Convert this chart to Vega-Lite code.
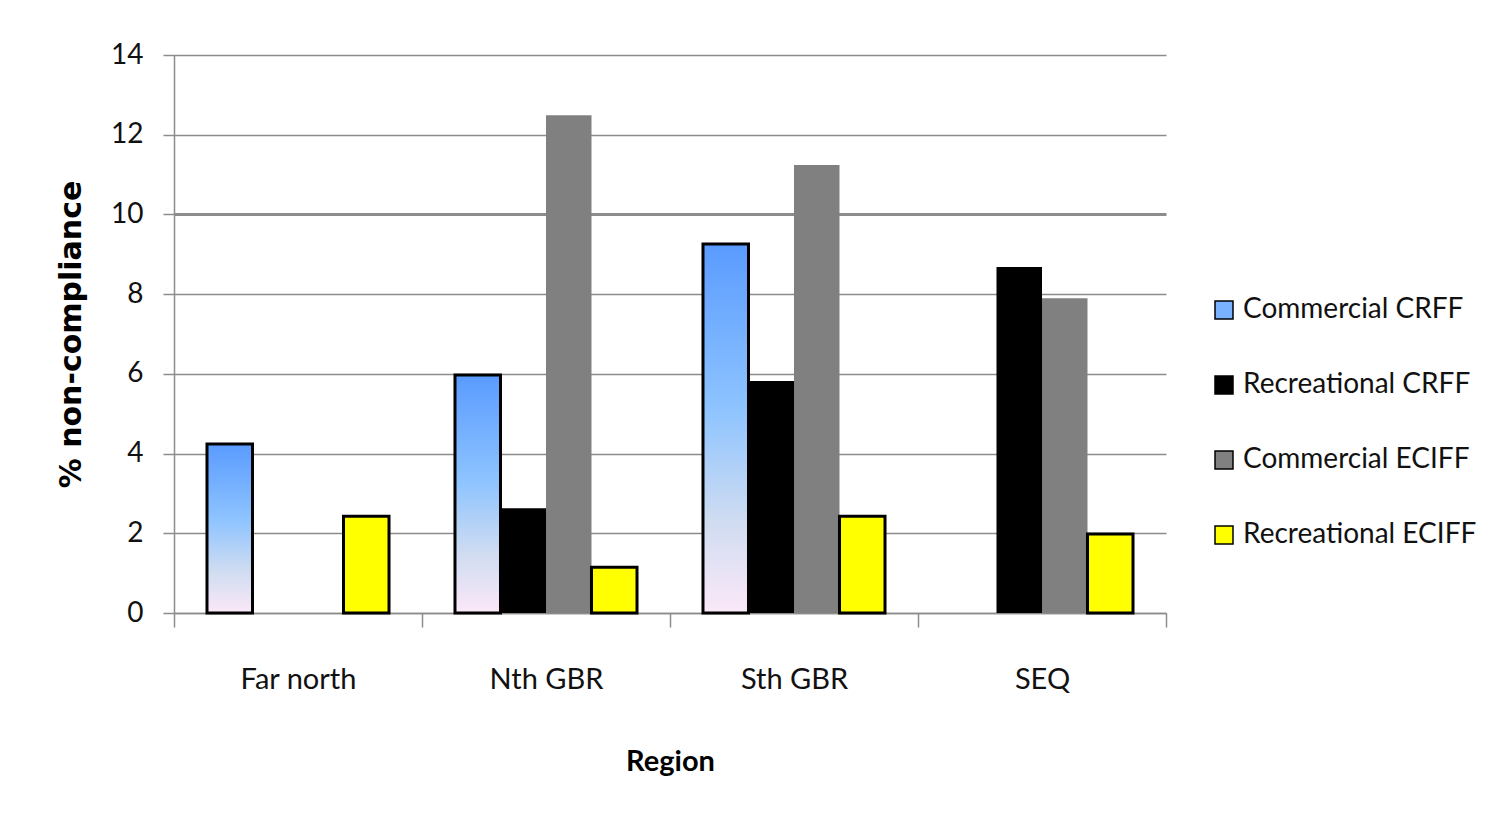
{
  "$schema": "https://vega.github.io/schema/vega-lite/v6.json",
  "autosize": {"type": "none"},
  "padding": {"left": 174, "top": 55, "right": 331, "bottom": 221},
  "width": 992,
  "height": 558,
  "background": "white",
  "config": {
    "view": {"stroke": null},
    "font": "Lato"
  },
  "data": {
    "values": [
      {"region": "Far north", "series": "Commercial CRFF", "pct": 4.24},
      {"region": "Far north", "series": "Recreational ECIFF", "pct": 2.43},
      {"region": "Nth GBR", "series": "Commercial CRFF", "pct": 5.97},
      {"region": "Nth GBR", "series": "Recreational CRFF", "pct": 2.63},
      {"region": "Nth GBR", "series": "Commercial ECIFF", "pct": 12.49},
      {"region": "Nth GBR", "series": "Recreational ECIFF", "pct": 1.15},
      {"region": "Sth GBR", "series": "Commercial CRFF", "pct": 9.26},
      {"region": "Sth GBR", "series": "Recreational CRFF", "pct": 5.82},
      {"region": "Sth GBR", "series": "Commercial ECIFF", "pct": 11.24},
      {"region": "Sth GBR", "series": "Recreational ECIFF", "pct": 2.43},
      {"region": "SEQ", "series": "Recreational CRFF", "pct": 8.68},
      {"region": "SEQ", "series": "Commercial ECIFF", "pct": 7.9},
      {"region": "SEQ", "series": "Recreational ECIFF", "pct": 1.98}
    ]
  },
  "mark": {"type": "bar", "stroke": "black"},
  "encoding": {
    "x": {
      "field": "region",
      "type": "nominal",
      "sort": ["Far north", "Nth GBR", "Sth GBR", "SEQ"],
      "scale": {"paddingInner": 0, "paddingOuter": 0},
      "axis": {
        "title": "Region",
        "titleFont": "Lato",
        "titleFontWeight": "bold",
        "titleFontSize": 29,
        "titleColor": "black",
        "titlePadding": 53,
        "labelAngle": 0,
        "labelFont": "Lato",
        "labelFontSize": 29,
        "labelColor": "#111",
        "labelPadding": 38,
        "tickBand": "extent",
        "tickSize": 14,
        "tickColor": "#8c8c8c",
        "tickWidth": 1.5,
        "domainColor": "#8c8c8c",
        "domainWidth": 1.5,
        "grid": false
      }
    },
    "xOffset": {
      "field": "series",
      "type": "nominal",
      "scale": {
        "domain": ["Commercial CRFF", "Recreational CRFF", "Commercial ECIFF", "Recreational ECIFF"],
        "paddingInner": 0,
        "paddingOuter": 0.725
      }
    },
    "y": {
      "field": "pct",
      "type": "quantitative",
      "scale": {"domain": [0, 14], "nice": false},
      "axis": {
        "title": "% non-compliance",
        "titleFont": "DejaVu Sans",
        "titleFontWeight": "bold",
        "titleFontSize": 30,
        "titleColor": "black",
        "titlePadding": 24,
        "values": [0, 2, 4, 6, 8, 10, 12, 14],
        "labelFont": "Lato",
        "labelFontSize": 28,
        "labelColor": "#111",
        "labelPadding": 20,
        "tickSize": 11,
        "tickColor": "#8c8c8c",
        "tickWidth": 1.5,
        "domainColor": "#8c8c8c",
        "domainWidth": 1.5,
        "grid": true,
        "gridColor": "#8c8c8c",
        "gridWidth": {"condition": {"test": "datum.value === 10", "value": 3}, "value": 1.5}
      }
    },
    "fill": {
      "field": "series",
      "type": "nominal",
      "scale": {
        "domain": ["Commercial CRFF", "Recreational CRFF", "Commercial ECIFF", "Recreational ECIFF"],
        "range": ["#79b3ff", "#000000", "#808080", "#ffff00"]
      },
      "condition": {
        "test": "datum.series === 'Commercial CRFF'",
        "value": {
          "gradient": "linear",
          "x1": 0, "y1": 0, "x2": 0, "y2": 1,
          "stops": [
            {"offset": 0, "color": "#5a9bff"},
            {"offset": 0.45, "color": "#8ec4ff"},
            {"offset": 0.75, "color": "#cfdcf1"},
            {"offset": 1, "color": "#fbe8f8"}
          ]
        }
      },
      "legend": {
        "title": null,
        "orient": "none",
        "legendX": 1036,
        "legendY": 241,
        "symbolType": "square",
        "symbolSize": 324,
        "labelFont": "Lato",
        "labelFontSize": 28,
        "labelColor": "#111",
        "labelOffset": 5,
        "labelLimit": 400,
        "rowPadding": 47,
        "encode": {
          "symbols": {
            "update": {
              "fill": [
                {
                  "test": "datum.value === 'Commercial CRFF'",
                  "value": {
                    "gradient": "linear",
                    "x1": 0, "y1": 0, "x2": 0, "y2": 1,
                    "stops": [
                      {"offset": 0, "color": "#8ec4ff"},
                      {"offset": 1, "color": "#f0eefa"}
                    ]
                  }
                },
                {"scale": "fill", "field": "value"}
              ],
              "stroke": [
                {"test": "datum.value === 'Commercial CRFF' || datum.value === 'Recreational ECIFF'", "value": "black"},
                {"value": null}
              ],
              "strokeWidth": {"value": 3},
              "opacity": {"value": 1}
            }
          }
        }
      }
    },
    "strokeWidth": {
      "condition": {
        "test": "datum.series === 'Commercial CRFF' || datum.series === 'Recreational ECIFF'",
        "value": 3
      },
      "value": 0
    }
  }
}
